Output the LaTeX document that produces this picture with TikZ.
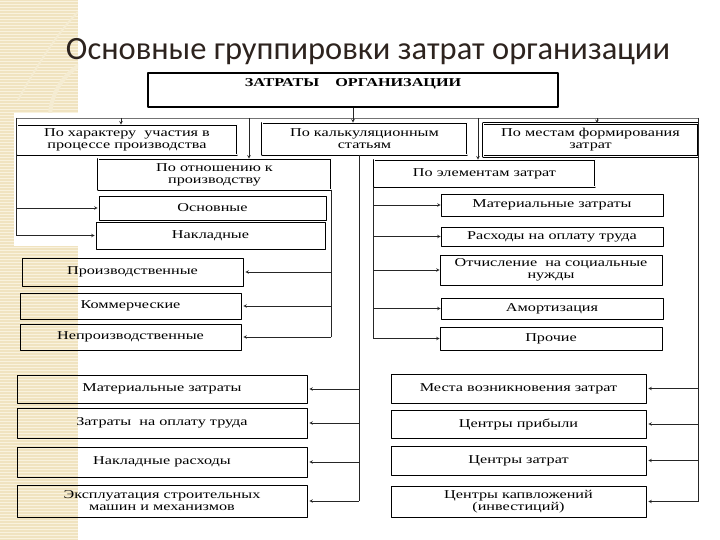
\documentclass[tikz,border=0pt]{standalone}
\usepackage{fontspec}
\setmainfont{Liberation Serif}
\newfontfamily\boxfont{Liberation Serif}[FakeStretch=1.35]
\newfontfamily\titlefont{Carlito}
\usetikzlibrary{arrows}
\definecolor{beige}{RGB}{240,227,192}
\definecolor{beigelight}{RGB}{249,242,222}
\definecolor{beigearc}{RGB}{245,236,210}
\definecolor{titlecol}{RGB}{45,35,30}
\begin{document}
\begin{tikzpicture}[x=1pt, y=-1pt, line join=round, >=stealth]
	\tikzset{box/.style={draw=black, line width=.6pt, align=center, inner sep=1pt, font=\boxfont\fontsize{12}{12}\selectfont}}
	\tikzset{topbox/.style={box, line width=2.4pt, text height=8pt, text depth=14pt, font=\boxfont\bfseries\fontsize{12}{12}\selectfont}}
	\tikzset{groupbox/.style={box, line width=.7pt, double=white, double distance=1pt}}
	\tikzset{line/.style={draw=black!85, line width=.6pt}}
	\tikzset{arr/.style={line, ->}}
	\useasboundingbox (0,0) rectangle (720,540);
	\fill[white] (0,0) rectangle (720,540);
	% stripe on the left
	\fill[beige] (0,0) rectangle (78,540);
	\foreach \y in {1,4,...,540}
	\draw[beigelight, line width=.8pt] (0,\y) -- (78,\y);
	\begin{scope}
	\clip (0,0) rectangle (78,540);
	\draw[beigearc, line width=4pt] (112,118) circle (62);
	\draw[beigearc, line width=2pt] (18,100) .. controls (40,60) and (60,30) .. (78,12);
	\end{scope}
	\fill[white] (14,113) rectangle (80,246);
	\node[font=\titlefont\fontsize{32.5}{36}\selectfont, text=titlecol, anchor=base] (title) at (368,60) {Основные группировки затрат организации};
	% boxes
	\node[topbox, minimum width=410pt, minimum height=34pt] (org) at (353,90) {ЗАТРАТЫ\quad\ ОРГАНИЗАЦИИ};
	\node[groupbox, minimum width=220pt, minimum height=30pt] (har) at (127,140) {По характеру\ \ участия в\\процессе производства};
	\node[groupbox, minimum width=205pt, minimum height=32pt] (kalk) at (364.5,139) {По калькуляционным\\статьям};
	\node[groupbox, minimum width=215pt, minimum height=33pt] (mest) at (590.5,140) {По местам формирования\\затрат};
	\node[groupbox, minimum width=233pt, minimum height=31pt] (otn) at (214.5,174.5) {По отношению к\\производству};
	\node[groupbox, minimum width=221pt, minimum height=27pt] (elem) at (484.5,173.5) {По элементам затрат};
	\node[box, minimum width=227pt, minimum height=24pt] (osn) at (212.5,208) {Основные};
	\node[box, minimum width=229pt, minimum height=27pt] (nakl) at (210.5,235.5) {Накладные};
	\node[box, minimum width=221pt, minimum height=28pt] (proizv) at (132.5,272) {Производственные};
	\node[box, minimum width=221pt, minimum height=26pt] (komm) at (130.5,306) {Коммерческие};
	\node[box, minimum width=221pt, minimum height=26pt] (neproizv) at (130.5,337) {Непроизводственные};
	\node[box, minimum width=222pt, minimum height=22pt] (elmat) at (552,205) {Материальные затраты};
	\node[box, minimum width=222pt, minimum height=19pt] (eltrud) at (552,236.5) {Расходы на оплату труда};
	\node[box, minimum width=222pt, minimum height=30pt] (elsoc) at (551,270) {Отчисление\ \ на социальные\\нужды};
	\node[box, minimum width=222pt, minimum height=21pt] (elam) at (552,308.5) {Амортизация};
	\node[box, minimum width=222pt, minimum height=23pt] (elpr) at (551,338.5) {Прочие};
	\node[box, minimum width=290pt, minimum height=28pt] (kmat) at (162,389) {Материальные затраты};
	\node[box, minimum width=290pt, minimum height=30pt] (ktrud) at (162,423) {Затраты\ \ на оплату труда};
	\node[box, minimum width=290pt, minimum height=30pt] (knakl) at (162,462) {Накладные расходы};
	\node[box, minimum width=290pt, minimum height=32pt] (kmash) at (162,501) {Эксплуатация строительных\\машин и механизмов};
	\node[box, minimum width=255pt, minimum height=29pt] (mvoz) at (518.5,388.5) {Места возникновения затрат};
	\node[box, minimum width=255pt, minimum height=28pt] (mprib) at (518.5,424) {Центры прибыли};
	\node[box, minimum width=255pt, minimum height=29pt] (mzatr) at (518.5,460.5) {Центры затрат};
	\node[box, minimum width=255pt, minimum height=31pt] (minv) at (518.5,501.5) {Центры капвложений\\(инвестиций)};
	% connectors
	\coordinate (bL) at (16,118);
	\coordinate (bR) at (698,118);
	\coordinate (b1) at (121,118);
	\coordinate (b2) at (249,118);
	\coordinate (b3) at (478,118);
	\coordinate (b4) at (597,118);
	\coordinate (k) at (359,155);
	\draw[draw=black!55, line width=.5pt] (bL) -- (bR);
	\draw[arr] (org.south) -- (org.south |- kalk.north);
	\foreach \b/\n in {b1/har,b2/otn,b3/elem,b4/mest}
	\draw[arr] (\b) -- (\b |- \n.north);
	\draw[line] (bL) -- (bL |- nakl.west);
	\foreach \n in {osn,nakl}
	\draw[arr] (bL |- \n.west) -- ([xshift=-1pt]\n.west);
	\draw[line] (otn.south east) -- (otn.south east |- neproizv.east);
	\foreach \n in {proizv,komm,neproizv}
	\draw[arr] (otn.south east |- \n.east) -- ([xshift=2pt]\n.east);
	\draw[line] (elem.south west) -- (elem.south west |- elpr.west);
	\foreach \n in {elmat,eltrud,elsoc,elam,elpr}
	\draw[arr] (elem.south west |- \n.west) -- (\n.west);
	\draw[line] (k) -- (k |- kmash.east);
	\foreach \n in {kmat,ktrud,knakl,kmash}
	\draw[arr] (k |- \n.east) -- ([xshift=2pt]\n.east);
	\draw[line] (bR) -- (bR |- minv.east);
	\foreach \n in {mvoz,mprib,mzatr,minv}
	\draw[arr] (bR |- \n.east) -- ([xshift=2pt]\n.east);
\end{tikzpicture}
\end{document}
